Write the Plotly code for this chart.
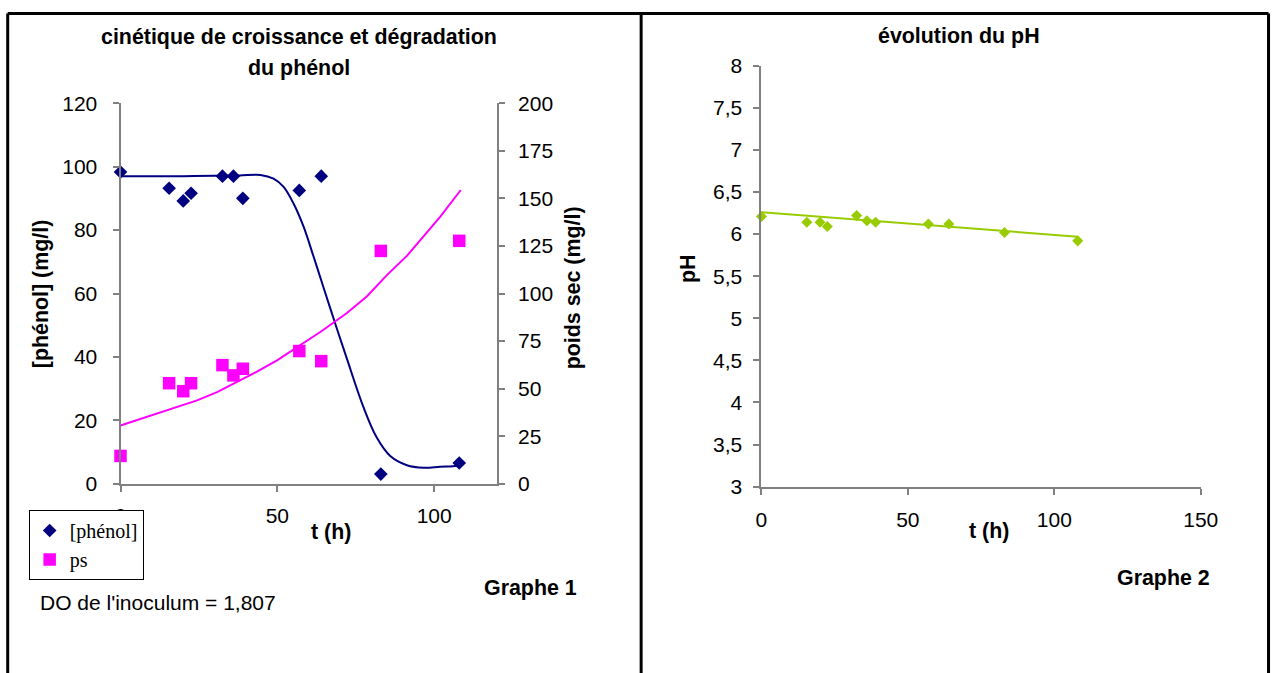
import plotly.graph_objects as go

# ---------------- data ----------------
t_h = [0, 15.5, 20, 22.5, 32.5, 36, 39, 57, 64, 83, 108]
phenol = [98.3, 93.2, 89.2, 91.6, 97.0, 97.0, 90.0, 92.5, 97.0, 3.1, 6.6]
ps = [14.7, 52.9, 48.7, 52.9, 62.4, 57.0, 60.5, 69.8, 64.5, 122.4, 127.7]
ph = [6.21, 6.14, 6.14, 6.09, 6.22, 6.16, 6.14, 6.12, 6.12, 6.02, 5.92]

# trend curves
phenol_fit_t = [0, 10, 20, 30, 38, 44.6, 48.8, 52, 55.2, 58.4, 61.6, 64.7, 68.5,
                72.2, 77.5, 81.7, 86, 91.3, 96.6, 101.9, 107.2, 108.5]
phenol_fit = [97.0, 97.0, 97.0, 97.1, 97.2, 97.4, 96.2, 93.6, 88.3, 81.0, 71.5, 62.0, 50.4,
              39.4, 24.1, 14.6, 8.8, 5.9, 5.1, 5.4, 5.7, 6.4]
ps_fit_t = [0, 7.4, 18, 24.4, 30.8, 37.2, 43.5, 49.9, 56.3, 63.7, 72.2, 78.6, 85,
            91.3, 96.6, 101.9, 108.5]
ps_fit = [30.7, 34.7, 40.3, 43.9, 48.2, 53.6, 59.0, 64.9, 71.6, 79.8, 89.8, 98.6, 109.8,
          119.8, 130.0, 140.3, 154.4]
ph_fit_t = [0, 108]
ph_fit = [6.26, 5.97]

ph_ticks = [3, 3.5, 4, 4.5, 5, 5.5, 6, 6.5, 7, 7.5, 8]
ph_tick_labels = ["3", "3,5", "4", "4,5", "5", "5,5", "6", "6,5", "7", "7,5", "8"]

# ---------------- styling ----------------
W, H = 1288, 684
# observed mapping figure px -> photographed px: x' = SX*x + OX, y' = SY*y + OY
SX, OX = 0.983, 5.3
SY, OY = 0.9645, 12.0
SANS = "Arial, Liberation Sans, sans-serif"
SERIF = "Times New Roman, Liberation Serif, serif"
AX = "#808080"
NAVY = "#000080"
MAG = "#FF00FF"
GREEN = "#99CC00"
FS = 21
FB = 21.4


def fx(x):  # target picture x -> figure px
    return (x - OX) / SX


def fy(y):
    return (y - OY) / SY


def px(x):
    return fx(x) / W


def py(y):
    return 1 - fy(y) / H


fig = go.Figure()

fig.add_trace(go.Scatter(x=phenol_fit_t, y=phenol_fit, mode="lines", line=dict(color=NAVY, width=2, shape="spline"),
                         showlegend=False, hoverinfo="skip", xaxis="x", yaxis="y"))
fig.add_trace(go.Scatter(x=ps_fit_t, y=ps_fit, mode="lines", line=dict(color=MAG, width=2),
                         showlegend=False, hoverinfo="skip", xaxis="x", yaxis="y2"))
fig.add_trace(go.Scatter(x=t_h, y=phenol, mode="markers", name="[phénol]", cliponaxis=False,
                         marker=dict(symbol="diamond", size=10.5, color=NAVY), xaxis="x", yaxis="y"))
fig.add_trace(go.Scatter(x=t_h, y=ps, mode="markers", name="ps", cliponaxis=False,
                         marker=dict(symbol="square", size=12.5, color=MAG), xaxis="x", yaxis="y2"))

fig.add_trace(go.Scatter(x=ph_fit_t, y=ph_fit, mode="lines", line=dict(color=GREEN, width=2),
                         showlegend=False, hoverinfo="skip", xaxis="x2", yaxis="y4"))
fig.add_trace(go.Scatter(x=t_h, y=ph, mode="markers", name="pH", cliponaxis=False,
                         marker=dict(symbol="diamond", size=8.5, color=GREEN), showlegend=False,
                         xaxis="x2", yaxis="y4"))

axis_common = dict(showgrid=False, zeroline=False, showline=True, linecolor=AX, linewidth=2,
                   ticks="outside", ticklen=6, tickcolor=AX, tickwidth=1.5,
                   tickfont=dict(family=SANS, size=FS, color="black"))

fig.update_layout(
    width=W, height=H,
    margin=dict(l=0, r=0, t=0, b=0),
    paper_bgcolor="white", plot_bgcolor="white",
    xaxis=dict(domain=[px(120), px(497)], range=[0, 120], tickvals=[0, 50, 100], anchor="y",
               ticklabelstandoff=6, **axis_common),
    yaxis=dict(domain=[py(483), py(103)], range=[0, 120], dtick=20, anchor="x",
               ticklabelstandoff=11, **axis_common),
    yaxis2=dict(domain=[py(483), py(103)], range=[0, 200], dtick=25, anchor="x", overlaying="y",
                side="right", ticklabelstandoff=9, **axis_common),
    yaxis3=dict(range=[0, 200], dtick=25, anchor="x", overlaying="y", side="right",
                showgrid=False, zeroline=False, showline=False, ticks="inside", ticklen=6,
                tickcolor=AX, tickwidth=1.5, showticklabels=False),
    xaxis2=dict(domain=[px(762), px(1202)], range=[0, 150], tickvals=[0, 50, 100, 150], anchor="y4",
                ticklabelstandoff=7, **axis_common),
    yaxis4=dict(domain=[py(485.7), py(65.7)], range=[3, 8], tickvals=ph_ticks, ticktext=ph_tick_labels,
                anchor="x2", ticklabelstandoff=7, **axis_common),
    legend=dict(x=px(28), y=py(509), xanchor="left", yanchor="top", bgcolor="white",
                bordercolor="black", borderwidth=1, font=dict(family=SERIF, size=20, color="black"),
                tracegroupgap=0, itemwidth=30),
    showlegend=True,
)


def ann(text, x, y, size=FB, bold=True, angle=0, xanchor="center"):
    fig.add_annotation(text=f"<b>{text}</b>" if bold else text, x=px(x), y=py(y), xref="paper", yref="paper",
                       showarrow=False, textangle=angle, xanchor=xanchor, yanchor="middle",
                       font=dict(family=SANS, size=size, color="black"))


ann("cinétique de croissance et dégradation", 299, 37)
ann("du phénol", 299, 68)
ann("évolution du pH", 960, 36)
ann("[phénol] (mg/l)", 40, 293, angle=-90)
ann("poids sec (mg/l)", 573, 287, angle=-90)
ann("pH", 689, 268, angle=-90)
ann("t (h)", 331, 531)
ann("t (h)", 990, 530)
ann("Graphe 1", 531, 587)
ann("Graphe 2", 1165, 577)
ann("DO de l'inoculum = 1,807", 37, 601, size=FS, bold=False, xanchor="left")

# table-cell borders of the original document (figure px)
bl, bm, br, bt, bb = max(fx(7), 1.5), fx(641.5), min(fx(1275), W - 1.5), 1.5, H
for x0, y0, x1, y1 in [(bl, bt, br, bt), (bl, bt, bl, bb), (bm, bt, bm, bb), (br, bt, br, bb)]:
    fig.add_shape(type="line", xref="paper", yref="paper", x0=x0 / W, y0=1 - y0 / H, x1=x1 / W, y1=1 - y1 / H,
                  line=dict(color="black", width=3))

fig.write_html("out.html")
